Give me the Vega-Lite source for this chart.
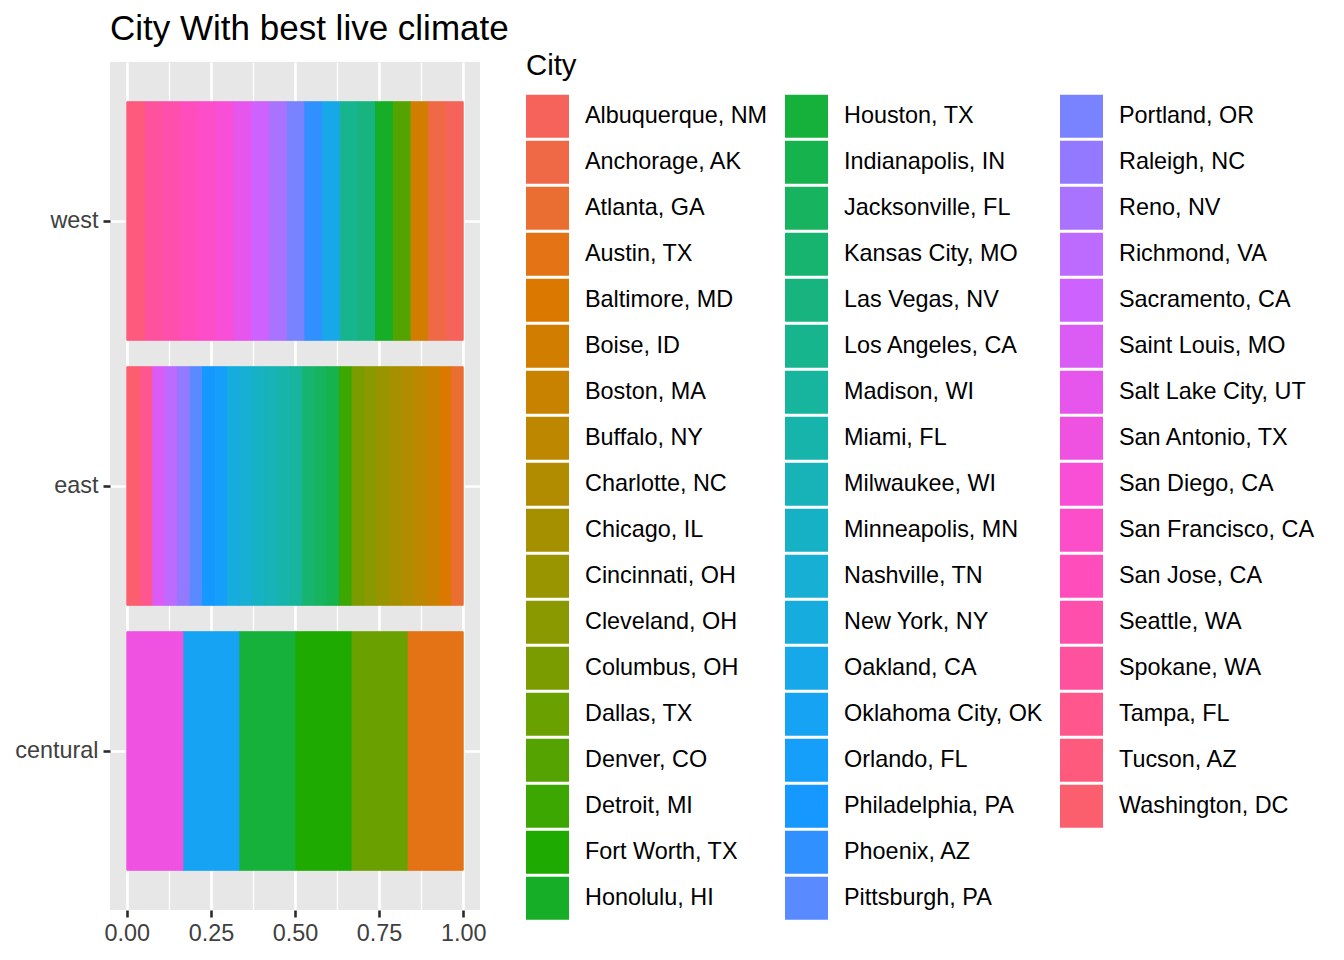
{
  "$schema": "https://vega.github.io/schema/vega-lite/v6.json",
  "autosize": {"type": "none"},
  "padding": {"left": 110, "top": 62, "right": 864, "bottom": 50},
  "width": 370,
  "height": 848,
  "background": "white",
  "title": {
    "text": "City With best live climate",
    "anchor": "start",
    "frame": "group",
    "font": "Liberation Sans",
    "fontSize": 35,
    "fontWeight": "normal",
    "color": "black",
    "baseline": "alphabetic",
    "offset": -23
  },
  "data": {
    "values": [
      {"Region": "west", "City": "Albuquerque, NM", "n": 1},
      {"Region": "west", "City": "Anchorage, AK", "n": 1},
      {"Region": "west", "City": "Boise, ID", "n": 1},
      {"Region": "west", "City": "Denver, CO", "n": 1},
      {"Region": "west", "City": "Honolulu, HI", "n": 1},
      {"Region": "west", "City": "Las Vegas, NV", "n": 1},
      {"Region": "west", "City": "Los Angeles, CA", "n": 1},
      {"Region": "west", "City": "Oakland, CA", "n": 1},
      {"Region": "west", "City": "Phoenix, AZ", "n": 1},
      {"Region": "west", "City": "Portland, OR", "n": 1},
      {"Region": "west", "City": "Reno, NV", "n": 1},
      {"Region": "west", "City": "Sacramento, CA", "n": 1},
      {"Region": "west", "City": "Salt Lake City, UT", "n": 1},
      {"Region": "west", "City": "San Diego, CA", "n": 1},
      {"Region": "west", "City": "San Francisco, CA", "n": 1},
      {"Region": "west", "City": "San Jose, CA", "n": 1},
      {"Region": "west", "City": "Seattle, WA", "n": 1},
      {"Region": "west", "City": "Spokane, WA", "n": 1},
      {"Region": "west", "City": "Tucson, AZ", "n": 1},
      {"Region": "east", "City": "Atlanta, GA", "n": 1},
      {"Region": "east", "City": "Baltimore, MD", "n": 1},
      {"Region": "east", "City": "Boston, MA", "n": 1},
      {"Region": "east", "City": "Buffalo, NY", "n": 1},
      {"Region": "east", "City": "Charlotte, NC", "n": 1},
      {"Region": "east", "City": "Chicago, IL", "n": 1},
      {"Region": "east", "City": "Cincinnati, OH", "n": 1},
      {"Region": "east", "City": "Cleveland, OH", "n": 1},
      {"Region": "east", "City": "Columbus, OH", "n": 1},
      {"Region": "east", "City": "Detroit, MI", "n": 1},
      {"Region": "east", "City": "Indianapolis, IN", "n": 1},
      {"Region": "east", "City": "Jacksonville, FL", "n": 1},
      {"Region": "east", "City": "Kansas City, MO", "n": 1},
      {"Region": "east", "City": "Madison, WI", "n": 1},
      {"Region": "east", "City": "Miami, FL", "n": 1},
      {"Region": "east", "City": "Milwaukee, WI", "n": 1},
      {"Region": "east", "City": "Minneapolis, MN", "n": 1},
      {"Region": "east", "City": "Nashville, TN", "n": 1},
      {"Region": "east", "City": "New York, NY", "n": 1},
      {"Region": "east", "City": "Orlando, FL", "n": 1},
      {"Region": "east", "City": "Philadelphia, PA", "n": 1},
      {"Region": "east", "City": "Pittsburgh, PA", "n": 1},
      {"Region": "east", "City": "Raleigh, NC", "n": 1},
      {"Region": "east", "City": "Richmond, VA", "n": 1},
      {"Region": "east", "City": "Saint Louis, MO", "n": 1},
      {"Region": "east", "City": "Tampa, FL", "n": 1},
      {"Region": "east", "City": "Washington, DC", "n": 1},
      {"Region": "centural", "City": "Austin, TX", "n": 1},
      {"Region": "centural", "City": "Dallas, TX", "n": 1},
      {"Region": "centural", "City": "Fort Worth, TX", "n": 1},
      {"Region": "centural", "City": "Houston, TX", "n": 1},
      {"Region": "centural", "City": "Oklahoma City, OK", "n": 1},
      {"Region": "centural", "City": "San Antonio, TX", "n": 1}
    ]
  },
  "mark": {"type": "bar", "strokeWidth": 1},
  "encoding": {
    "y": {
      "field": "Region",
      "type": "nominal",
      "sort": ["west", "east", "centural"],
      "scale": {"paddingInner": 0.1, "paddingOuter": 0.15},
      "axis": {
        "title": null,
        "grid": true,
        "gridColor": "white",
        "gridWidth": 2.6,
        "bandPosition": 0.5,
        "domain": false,
        "tickSize": 7,
        "tickWidth": 2.6,
        "tickColor": "#2B2B2B",
        "labelFont": "Liberation Sans",
        "labelFontSize": 23.4,
        "labelColor": "#404040",
        "labelPadding": 5
      }
    },
    "x": {
      "field": "n",
      "type": "quantitative",
      "stack": "normalize",
      "scale": {"domain": [-0.05, 1.05], "nice": false, "zero": false},
      "axis": {
        "title": null,
        "values": [0, 0.125, 0.25, 0.375, 0.5, 0.625, 0.75, 0.875, 1],
        "labelExpr": "datum.value % 0.25 === 0 ? format(datum.value, '.2f') : ''",
        "grid": true,
        "gridColor": "white",
        "gridWidth": {"condition": {"test": "datum.value % 0.25 === 0", "value": 2.6}, "value": 1.3},
        "tickOpacity": {"condition": {"test": "datum.value % 0.25 === 0", "value": 1}, "value": 0},
        "domain": false,
        "tickSize": 7,
        "tickWidth": 2.6,
        "tickColor": "#2B2B2B",
        "labelFont": "Liberation Sans",
        "labelFontSize": 23.4,
        "labelColor": "#404040",
        "labelPadding": 5.5,
        "labelFlush": false,
        "labelOverlap": false
      }
    },
    "color": {
      "field": "City",
      "type": "nominal",
      "scale": {
        "domain": [
          "Albuquerque, NM", "Anchorage, AK", "Atlanta, GA", "Austin, TX", "Baltimore, MD", "Boise, ID",
          "Boston, MA", "Buffalo, NY", "Charlotte, NC", "Chicago, IL", "Cincinnati, OH", "Cleveland, OH",
          "Columbus, OH", "Dallas, TX", "Denver, CO", "Detroit, MI", "Fort Worth, TX", "Honolulu, HI",
          "Houston, TX", "Indianapolis, IN", "Jacksonville, FL", "Kansas City, MO", "Las Vegas, NV", "Los Angeles, CA",
          "Madison, WI", "Miami, FL", "Milwaukee, WI", "Minneapolis, MN", "Nashville, TN", "New York, NY",
          "Oakland, CA", "Oklahoma City, OK", "Orlando, FL", "Philadelphia, PA", "Phoenix, AZ", "Pittsburgh, PA",
          "Portland, OR", "Raleigh, NC", "Reno, NV", "Richmond, VA", "Sacramento, CA", "Saint Louis, MO",
          "Salt Lake City, UT", "San Antonio, TX", "San Diego, CA", "San Francisco, CA", "San Jose, CA", "Seattle, WA",
          "Spokane, WA", "Tampa, FL", "Tucson, AZ", "Washington, DC", "~1", "~2"
        ],
        "range": [
          "#F6635A", "#F06946", "#EA6E32", "#E37315", "#DB7800", "#D17E00",
          "#C88200", "#BD8700", "#B28C00", "#A59000", "#999500", "#8B9900",
          "#7B9C00", "#6AA000", "#55A300", "#3CA700", "#1EAA00", "#16AE26",
          "#16B13A", "#15B24D", "#17B35F", "#17B470", "#17B480", "#17B58E",
          "#17B59D", "#17B4AC", "#17B3B9", "#17B1C6", "#17AFD3", "#17ACDE",
          "#17A8E9", "#16A3F3", "#169EFB", "#1598FF", "#3190FF", "#5A8AFF",
          "#7982FF", "#9279FF", "#A972FF", "#BC6AFF", "#CD62FE", "#DB5CF5",
          "#E656ED", "#EF52E1", "#F84FD6", "#FD4EC9", "#FF4EBB", "#FF4FAC",
          "#FF529E", "#FF568D", "#FE5A7D", "#FB5E6C", "transparent", "transparent"
        ]
      },
      "legend": {
        "title": "City",
        "orient": "none",
        "legendX": 416,
        "legendY": -10,
        "direction": "vertical",
        "columns": 3,
        "symbolLimit": 100,
        "gridAlign": "each",
        "columnPadding": 17,
        "rowPadding": 3,
        "titleFont": "Liberation Sans",
        "titleFontSize": 29.3,
        "titleFontWeight": "normal",
        "titleColor": "black",
        "titlePadding": 13.5,
        "labelFont": "Liberation Sans",
        "labelFontSize": 23.4,
        "labelColor": "black",
        "labelOffset": 16,
        "labelLimit": 400,
        "labelExpr": "datum.label === '~1' || datum.label === '~2' ? '' : datum.label",
        "symbolType": "square",
        "symbolSize": 1849,
        "symbolStrokeWidth": 0,
        "symbolOpacity": 1,
        "padding": 0,
        "encode": {
          "symbols": {
            "update": {
              "strokeWidth": {"value": 0},
              "opacity": {"signal": "datum.value === '~1' || datum.value === '~2' ? 0 : 1"}
            }
          }
        }
      }
    },
    "stroke": {
      "field": "City",
      "type": "nominal",
      "legend": null,
      "scale": {
        "domain": [
          "Albuquerque, NM", "Anchorage, AK", "Atlanta, GA", "Austin, TX", "Baltimore, MD", "Boise, ID",
          "Boston, MA", "Buffalo, NY", "Charlotte, NC", "Chicago, IL", "Cincinnati, OH", "Cleveland, OH",
          "Columbus, OH", "Dallas, TX", "Denver, CO", "Detroit, MI", "Fort Worth, TX", "Honolulu, HI",
          "Houston, TX", "Indianapolis, IN", "Jacksonville, FL", "Kansas City, MO", "Las Vegas, NV", "Los Angeles, CA",
          "Madison, WI", "Miami, FL", "Milwaukee, WI", "Minneapolis, MN", "Nashville, TN", "New York, NY",
          "Oakland, CA", "Oklahoma City, OK", "Orlando, FL", "Philadelphia, PA", "Phoenix, AZ", "Pittsburgh, PA",
          "Portland, OR", "Raleigh, NC", "Reno, NV", "Richmond, VA", "Sacramento, CA", "Saint Louis, MO",
          "Salt Lake City, UT", "San Antonio, TX", "San Diego, CA", "San Francisco, CA", "San Jose, CA", "Seattle, WA",
          "Spokane, WA", "Tampa, FL", "Tucson, AZ", "Washington, DC"
        ],
        "range": [
          "#F6635A", "#F06946", "#EA6E32", "#E37315", "#DB7800", "#D17E00",
          "#C88200", "#BD8700", "#B28C00", "#A59000", "#999500", "#8B9900",
          "#7B9C00", "#6AA000", "#55A300", "#3CA700", "#1EAA00", "#16AE26",
          "#16B13A", "#15B24D", "#17B35F", "#17B470", "#17B480", "#17B58E",
          "#17B59D", "#17B4AC", "#17B3B9", "#17B1C6", "#17AFD3", "#17ACDE",
          "#17A8E9", "#16A3F3", "#169EFB", "#1598FF", "#3190FF", "#5A8AFF",
          "#7982FF", "#9279FF", "#A972FF", "#BC6AFF", "#CD62FE", "#DB5CF5",
          "#E656ED", "#EF52E1", "#F84FD6", "#FD4EC9", "#FF4EBB", "#FF4FAC",
          "#FF529E", "#FF568D", "#FE5A7D", "#FB5E6C"
        ]
      }
    },
    "order": {"field": "City", "type": "nominal", "sort": "descending"}
  },
  "config": {
    "view": {"fill": "#E7E7E7", "stroke": null},
    "font": "Liberation Sans"
  }
}
